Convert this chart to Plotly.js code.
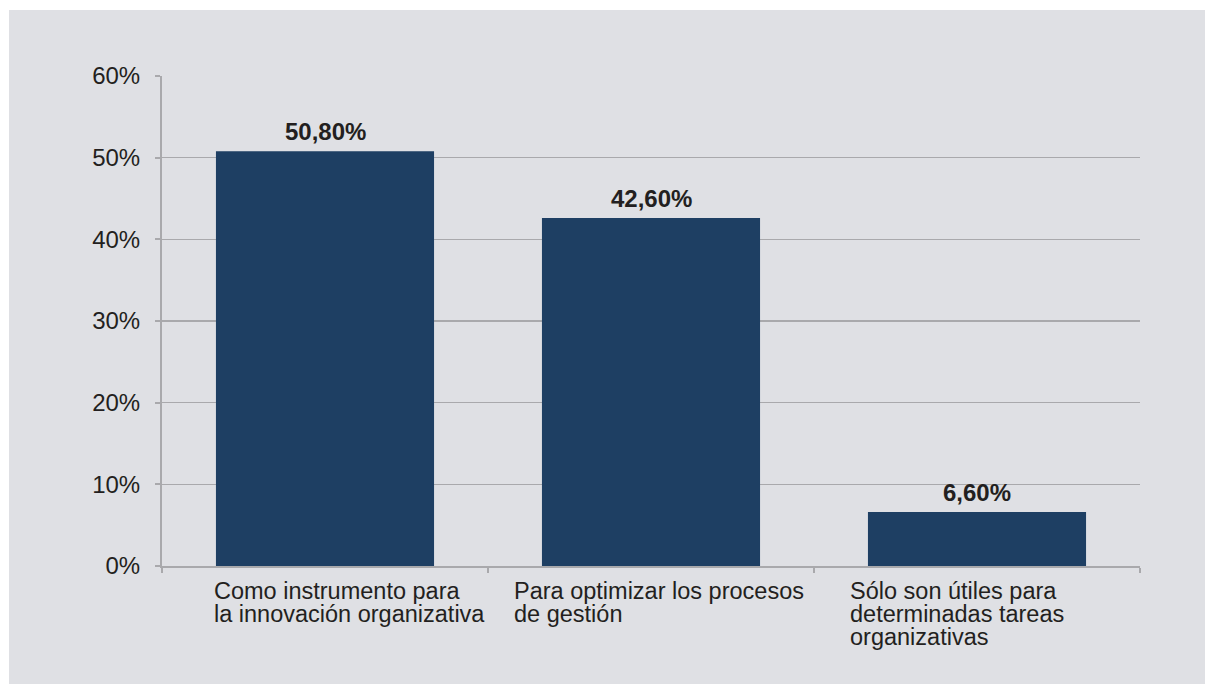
<!DOCTYPE html>
<html>
<head>
<meta charset="utf-8">
<script src="https://cdn.plot.ly/plotly-3.0.1.min.js"></script>
<style>
html,body{margin:0;padding:0;background:#dfe0e4;overflow:hidden;}
#chart{position:absolute;left:9px;top:10px;width:1196px;height:674px;}
#topstrip{position:absolute;left:0;top:0;width:100%;height:10px;background:#ffffff;z-index:2;}
#leftstrip{position:absolute;left:0;top:0;width:9px;height:100%;background:#ffffff;z-index:2;}
</style>
</head>
<body>
<div id="topstrip"></div>
<div id="leftstrip"></div>
<div id="chart"></div>
<script>
// ---- data ----
var categories = [
  "Como instrumento para la innovación organizativa",
  "Para optimizar los procesos de gestión",
  "Sólo son útiles para determinadas tareas organizativas"
];
var categoryLines = [
  ["Como instrumento para", "la innovación organizativa"],
  ["Para optimizar los procesos", "de gestión"],
  ["Sólo son útiles para", "determinadas tareas", "organizativas"]
];
var values = [50.8, 42.6, 6.6];
var yTickValues = [0, 10, 20, 30, 40, 50, 60];
var yTickLabels = ["0%", "10%", "20%", "30%", "40%", "50%", "60%"];

// ---- styles ----
var FONT = "Liberation Sans, Arial, Helvetica, sans-serif";
var TEXT = "#231f20";
var BAR = "#1e3f63";
var LINE = "#a9a9ac";
var BG = "#dfe0e4";
var labelShift = [-113, -139, -129];
var lineStep = 23;
var FS = 24;
var CAT_FS = 23.5;

var idx = categories.map(function (c, i) { return i; });

var annotations = [];
values.forEach(function (v, i) {
  annotations.push({
    x: i, y: v, xref: "x", yref: "y",
    text: "<b>" + v.toFixed(2).replace(".", ",") + "%</b>",
    showarrow: false, xanchor: "center", yanchor: "bottom", yshift: 4,
    font: {family: FONT, size: FS, color: TEXT}
  });
});
categoryLines.forEach(function (lines, i) {
  lines.forEach(function (t, j) {
    annotations.push({
      x: i, y: 0, xref: "x", yref: "paper",
      text: t, showarrow: false, xanchor: "left", yanchor: "top",
      xshift: labelShift[i], yshift: -10 - j * lineStep,
      font: {family: FONT, size: CAT_FS, color: TEXT}
    });
  });
});

var trace = {
  type: "bar",
  x: idx,
  y: values,
  marker: {color: BAR},
  hoverinfo: "skip",
  text: categories,
  textposition: "none"
};

var layout = {
  width: 1196, height: 674,
  margin: {l: 153, r: 65, t: 66, b: 118, pad: 0},
  paper_bgcolor: BG, plot_bgcolor: BG,
  showlegend: false,
  bargap: 0.331,
  font: {family: FONT, size: FS, color: TEXT},
  xaxis: {
    type: "linear", range: [-0.5, 2.5], tickvals: [-0.5, 0.5, 1.5, 2.5],
    showticklabels: false, ticks: "outside", ticklen: 5, tickwidth: 2, tickcolor: LINE,
    showline: true, linecolor: LINE, linewidth: 2, showgrid: false, zeroline: false
  },
  yaxis: {
    range: [0, 60], tickvals: yTickValues, ticktext: yTickLabels,
    ticks: "outside", ticklen: 5, tickwidth: 2, tickcolor: LINE,
    ticklabelstandoff: 10,
    showline: true, linecolor: LINE, linewidth: 2,
    showgrid: true, gridcolor: LINE, gridwidth: 1.5, zeroline: false,
    tickfont: {family: FONT, size: FS, color: TEXT}
  },
  annotations: annotations
};

Plotly.newPlot("chart", [trace], layout, {staticPlot: true, displayModeBar: false});
</script>
</body>
</html>
